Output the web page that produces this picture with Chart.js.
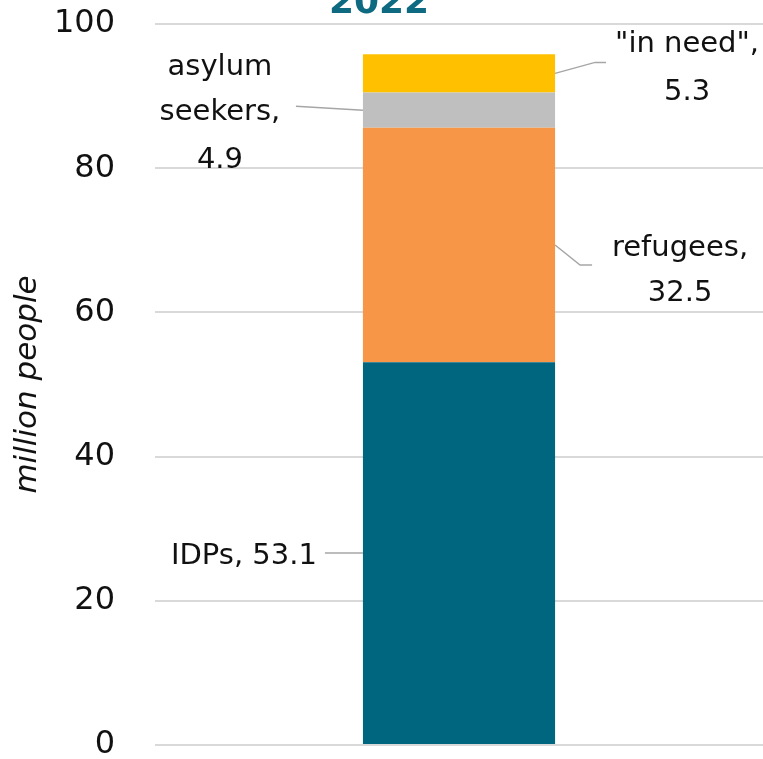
<!DOCTYPE html>
<html>
<head>
<meta charset="utf-8">
<script src="https://cdn.jsdelivr.net/npm/chart.js@4"></script>
<style>
  html, body { margin: 0; padding: 0; background: #fff; }
  #wrap { width: 763px; height: 759px; }
</style>
</head>
<body>
<div id="wrap"><canvas id="displaced"></canvas></div>
<script>
// data
const years = ['2022'];
const seriesNames = ['IDPs', 'refugees', 'asylum seekers', '"in need"'];
const seriesValues = [53.1, 32.5, 4.9, 5.3];
const seriesColors = ['#00667F', '#F79646', '#BFBFBF', '#FFC000'];
const calloutLines = [
  ['IDPs, 53.1'],
  ['refugees,', '32.5'],
  ['asylum', 'seekers,', '4.9'],
  ['"in need",', '5.3']
];
const yTicks = [0, 20, 40, 60, 80, 100];

const FONT = '"DejaVu Sans", "Open Sans", sans-serif';

// callout placement, relative to the middle of each segment
const calloutLayout = [
  {side: 'left',  leader: [[-38, 0]],             textDx: -46,  align: 'right',  dy: [3]},
  {side: 'right', leader: [[25, 20], [37, 20]],   textDx: 125,  align: 'center', dy: [3, 48]},
  {side: 'left',  leader: [[-67, -4]],            textDx: -143, align: 'center', dy: [-43, 2, 50]},
  {side: 'right', leader: [[40, -11], [51, -11]], textDx: 132,  align: 'center', dy: [-29, 19]}
];

const callouts = {
  id: 'callouts',
  afterDatasetsDraw(chart) {
    const ctx = chart.ctx;
    ctx.save();
    chart.data.datasets.forEach((ds, i) => {
      const bar = chart.getDatasetMeta(i).data[0];
      const lay = calloutLayout[i];
      const midY = (bar.y + bar.base) / 2;
      const edgeX = lay.side === 'left' ? bar.x - bar.width / 2 : bar.x + bar.width / 2;
      ctx.strokeStyle = '#A6A6A6';
      ctx.lineWidth = 1.5;
      ctx.beginPath();
      ctx.moveTo(edgeX, midY);
      lay.leader.forEach(p => ctx.lineTo(edgeX + p[0], midY + p[1]));
      ctx.stroke();
      ctx.fillStyle = '#111';
      ctx.font = '29px ' + FONT;
      ctx.textAlign = lay.align;
      ctx.textBaseline = 'middle';
      calloutLines[i].forEach((line, k) => {
        ctx.fillText(line, edgeX + lay.textDx, midY + lay.dy[k]);
      });
    });
    // year heading, partly cut off at the top
    ctx.fillStyle = '#0E6A80';
    ctx.font = 'bold 36px ' + FONT;
    ctx.textAlign = 'center';
    ctx.textBaseline = 'alphabetic';
    ctx.fillText(years[0], chart.chartArea.left + 224, 13);
    ctx.restore();
  }
};

new Chart(document.getElementById('displaced'), {
  type: 'bar',
  data: {
    labels: years,
    datasets: seriesNames.map((name, i) => ({
      label: name,
      data: [seriesValues[i]],
      backgroundColor: seriesColors[i],
      borderWidth: 0,
      barPercentage: 0.316,
      categoryPercentage: 1
    }))
  },
  options: {
    responsive: true,
    maintainAspectRatio: false,
    animation: false,
    layout: {padding: {top: 24, bottom: 14, right: 0, left: 0}},
    plugins: {
      legend: {display: false},
      tooltip: {enabled: false}
    },
    scales: {
      x: {
        stacked: true,
        display: false
      },
      y: {
        stacked: true,
        min: 0,
        max: 100,
        afterBuildTicks: (scale) => { scale.ticks = yTicks.map(v => ({value: v})); },
        afterFit: (scale) => { scale.width = 155; },
        border: {display: false},
        grid: {color: '#D9D9D9', lineWidth: 2, drawTicks: true, tickLength: 40, tickColor: 'rgba(0,0,0,0)'},
        ticks: {
          padding: 0,
          color: '#111',
          font: {family: FONT, size: 32, lineHeight: 0.85}
        },
        title: {
          display: true,
          text: 'million people',
          color: '#111',
          padding: {top: 9, bottom: 0},
          font: {family: FONT, size: 31, style: 'italic'}
        }
      }
    }
  },
  plugins: [callouts]
});
</script>
</body>
</html>
